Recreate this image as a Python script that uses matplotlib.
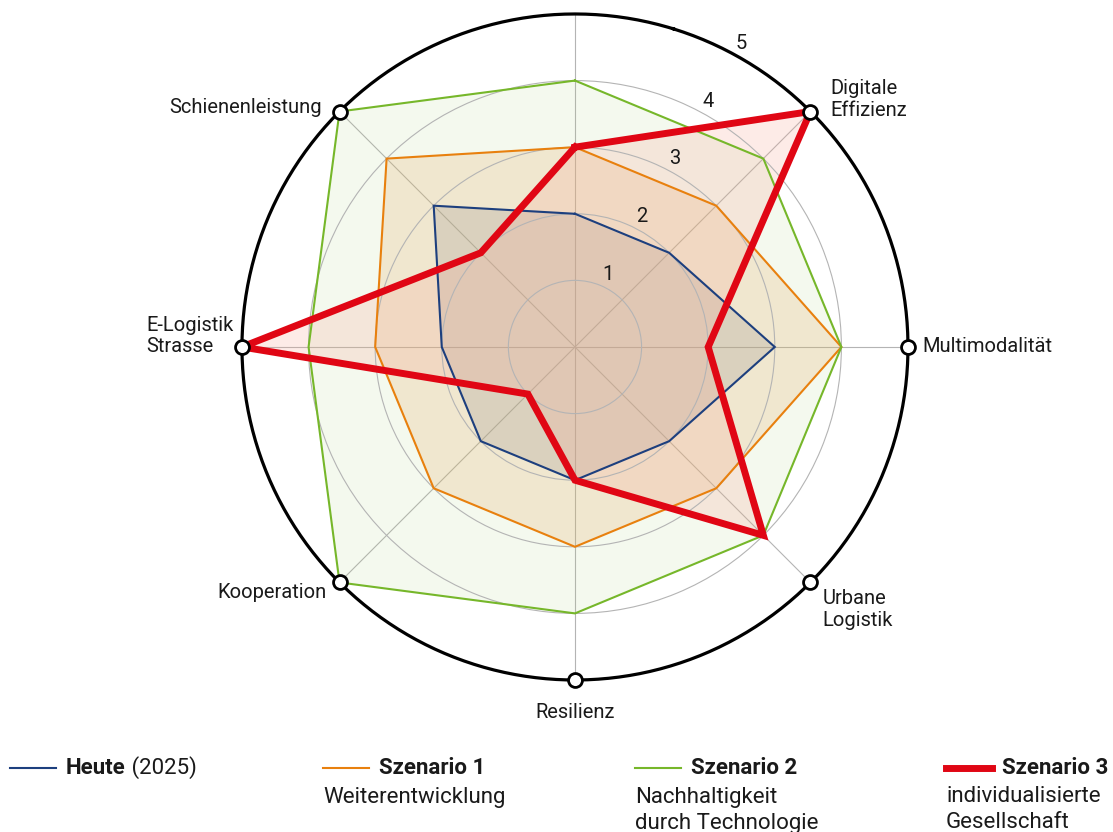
import numpy as np
import matplotlib.pyplot as plt
from matplotlib.lines import Line2D

plt.rcParams['font.family'] = ['Roboto', 'DejaVu Sans']

categories = ['', 'Digitale\nEffizienz', 'Multimodalität', 'Urbane\nLogistik', 'Resilienz',
              'Kooperation', 'E-Logistik\nStrasse', 'Schienenleistung']
heute = [2, 2, 3, 2, 2, 2, 2, 3]
szenario1 = [3, 3, 4, 3, 3, 3, 3, 4]
szenario2 = [4, 4, 4, 4, 4, 5, 4, 5]
szenario3 = [3, 5, 2, 4, 2, 1, 5, 2]
rings = [1, 2, 3, 4, 5]

series = [
    ('Heute', ' (2025)', [], heute, '#1d3f7e', '#8f8fa6', 0.28, 1.5),
    ('Szenario 1', '', ['Weiterentwicklung'], szenario1, '#e8800e', '#eea860', 0.22, 1.5),
    ('Szenario 2', '', ['Nachhaltigkeit', 'durch Technologie'], szenario2, '#76b72a', '#a8cf78', 0.12, 1.5),
    ('Szenario 3', '', ['individualisierte', 'Gesellschaft'], szenario3, '#e00614', '#f7a594', 0.22, 5.0),
]
FS = 14.5
LFS = 16

n = len(categories)
theta = np.arange(n) * 2 * np.pi / n
theta_c = np.append(theta, theta[0])

fig = plt.figure(figsize=(11.13, 8.32), dpi=100)
ax = fig.add_axes([0.2174, 0.1827, 0.5984, 0.8005], projection='polar')
ax.set_theta_zero_location('N')
ax.set_theta_direction(-1)
ax.set_ylim(0, 5)

for name, extra, desc, vals, col, fcol, a, lw in series:
    v = np.append(vals, vals[0])
    ax.fill(theta_c, v, color=fcol, alpha=a, zorder=1, lw=0)
for name, extra, desc, vals, col, fcol, a, lw in series:
    v = np.append(vals, vals[0])
    ax.plot(theta_c, v, color=col, lw=lw, zorder=3, solid_joinstyle='miter')

ax.set_xticks([])
ax.set_yticks(rings[:-1])
ax.set_yticklabels([])
ax.yaxis.set_tick_params(which='both', length=0, width=0)
for s in ['start', 'end', 'inner', 'polar']:
    ax.spines[s].set_visible(False)
ax.yaxis.grid(True, color='#b4b4b4', lw=0.8)
ax.xaxis.grid(False)

# spokes
for t in theta:
    ax.plot([t, t], [0, 5], color='#b4b4b4', lw=0.8, zorder=0.5)

# outer black ring
circ = np.linspace(0.3, 0.3 + 2 * np.pi, 400)
ax.plot(circ, np.full_like(circ, 5), color='black', lw=2.3, zorder=4, clip_on=False)

for r in rings:
    ax.annotate(str(r), xy=(np.deg2rad(30), r), xytext=(0, 15), textcoords='offset pixels',
                fontsize=FS, ha='center', va='center', color='#1a1a1a')

# markers + labels on outer ring
offsets = {
    1: (20, 12, 'left', 'center'),
    2: (14, 0, 'left', 'center'),
    3: (12, -27, 'left', 'center'),
    4: (0, -33, 'center', 'center'),
    5: (-13, -10, 'right', 'center'),
    6: (-8, 11, 'right', 'center'),
    7: (-18, 4, 'right', 'center'),
}
for i, (dx, dy, ha, va) in offsets.items():
    ax.plot([theta[i]], [5], 'o', ms=10, mfc='white', mec='black', mew=2, zorder=5, clip_on=False)
    ax.annotate(categories[i], xy=(theta[i], 5), xytext=(dx, dy), textcoords='offset pixels',
                ha=ha, va=va, multialignment='left', fontsize=FS, color='#1a1a1a', linespacing=1.15)

# legend
W, H = 1113, 832
xs = [10, 323, 635, 946]
for x, (name, extra, desc, vals, col, fcol, a, lw) in zip(xs, series):
    fig.add_artist(Line2D([x / W, (x + 46) / W], [1 - 768 / H, 1 - 768 / H], color=col, lw=lw if lw > 2 else 1.5))
    t = fig.text((x + 56) / W, 1 - 768 / H, name, fontsize=LFS, fontweight='bold', va='center', ha='left', color='#1a1a1a')
    if extra:
        fig.canvas.draw()
        bb = t.get_window_extent()
        fig.text(bb.x1 / W, 1 - 768 / H, extra, fontsize=LFS, va='center', ha='left', color='#1a1a1a')
    for k, d in enumerate(desc):
        fig.text(x / W, 1 - (797 + 26 * k) / H, d, fontsize=LFS, va='center', ha='left', color='#1a1a1a')

fig.savefig('out.png', dpi=100)
